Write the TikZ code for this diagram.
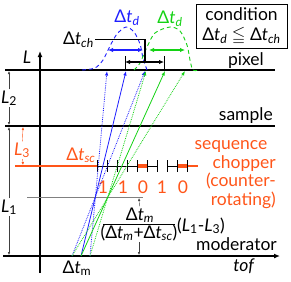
\documentclass[tikz,border=0pt]{standalone}
\usepackage{amsmath,amssymb}
\usepackage{fontspec}
\setmainfont{Lato}
\usetikzlibrary{arrows.meta}
\definecolor{chopred}{RGB}{255,85,25}
\definecolor{nblue}{RGB}{30,30,255}
\definecolor{ngreen}{RGB}{20,210,20}
\newcommand{\dtof}[1]{Δ\textit{t}\textsubscript{\textit{#1}}}
\tikzset{
  level/.style={line width=1.2pt},
  dimarrow/.style={black!75, line width=0.4pt, -{Latex[length=3pt,width=2.4pt]}},
  flight/.style={line width=0.8pt, -{Latex[length=4.5pt,width=3.4pt]}},
  spread/.style={line width=1.1pt, {Latex[length=5pt,width=4.5pt]}-{Latex[length=5pt,width=4.5pt]}},
  tag/.style={inner sep=0pt},
}

\begin{document}
\begin{tikzpicture}[x=1pt,y=-1pt,font=\fontsize{17.5}{20}\selectfont]
  \useasboundingbox (0,0) rectangle (291,281);
  \coordinate (pixW) at (5,70);   \coordinate (pixE) at (275,70);
  \coordinate (smpW) at (5,126);  \coordinate (smpE) at (275,126);
  \coordinate (modW) at (3,256);  \coordinate (modE) at (280,256);
  \coordinate (axB) at (40,273);  \coordinate (axT) at (40,51);
  \draw[level] (pixW) -- (pixE);
  \draw[level] (smpW) -- (smpE);
  \draw[line width=1.8pt, -{Latex[length=6pt,width=5pt]}] (modW) -- (modE);
  \draw[level, -{Latex[length=6pt,width=5pt]}] (axB) -- (axT);
  \coordinate (midW) at (27,197); \coordinate (midE) at (143,197);
  \draw[gray, line width=0.6pt] (midW) -- (midE);

  \coordinate (chW) at (15,166); \coordinate (chE) at (198,166);
  \draw[chopred, line width=1.6pt] (chW) -- (97,166);
  \draw[chopred, line width=1.6pt] (187,166) -- (chE);
  \draw[line width=0.9pt] (97,166) -- (137,166) (147,166) -- (157,166) (167,166) -- (177,166);
  \draw[chopred, line width=3.5pt] (137,166) -- (147,166) (177,166) -- (187,166);
  \foreach \x in {97,107,...,187}
    \draw[line width=0.9pt] (\x,160) -- (\x,172);
  \foreach \x/\d in {103/1,123/1,143/0,162/1,183/0}
    \node[tag, anchor=base, text=chopred] (bit\x) at (\x,193) {\d};

  \coordinate (mA) at (72,256); \coordinate (mB) at (81,256); \coordinate (mC) at (90,256);
  \foreach \x in {107,126,145,146,165,185}
    \coordinate (hit\x) at (\x,71);
  \foreach \s/\t/\c/\st in {mC/107/nblue/densely dotted, mB/126/nblue/solid,
                            mA/145/nblue/densely dotted, mC/146/ngreen/densely dotted,
                            mB/165/ngreen/solid, mA/185/ngreen/densely dotted}
    \draw[flight, \c, \st] (\s) -- (hit\t);

  \draw[nblue, line width=0.9pt, dash pattern=on 4pt off 3pt] plot[smooth] coordinates {
    (82,70) (95,68) (103,60) (110,46) (117,34) (126,27) (134,32) (140,44) (143,58) (147,70)
  };
  \draw[ngreen, line width=0.9pt, dash pattern=on 4pt off 3pt] plot[smooth] coordinates {
    (134,70) (140,63) (147,47) (155,33) (170,27) (180,31) (187,45) (190,60) (193,70) (200,70)
  };
  \coordinate (bdL) at (108,50); \coordinate (bdR) at (143,50);
  \coordinate (gdL) at (149,50); \coordinate (gdR) at (185,50);
  \draw[spread, nblue] (bdL) -- (bdR);
  \draw[spread, ngreen] (gdL) -- (gdR);
  \node[tag, anchor=base, text=nblue] (bdlab) at (127,22) {\dtof{d}};
  \node[tag, anchor=base, text=ngreen] (gdlab) at (170,23) {\dtof{d}};

  \node[inner sep=1pt, anchor=base east] (dtch) at (95,44) {\dtof{ch}};
  \coordinate (chD) at (145,62);
  \coordinate (chL) at (125,62); \coordinate (chR) at (164,62);
  \draw[line width=1.2pt] (dtch) -| (chD);
  \draw[spread] (chL) -- (chR);
  \draw[line width=1pt] ([yshift=6pt]chL) -- ([yshift=-8pt]chL);
  \draw[line width=1pt] ([yshift=6pt]chR) -- ([yshift=-8pt]chR);

  \node[draw, line width=1pt, minimum width=91pt, minimum height=44pt, inner sep=0pt,
        align=center] (cond) at (241.5,26) {condition\\\dtof{d} $\leqq$ \dtof{ch}};

  \node[anchor=base] (Llab) at (27,63) {\textit{L}};
  \node[tag, anchor=base east] (pixlab) at (264,65) {pixel};
  \node[tag, anchor=base east] (smplab) at (273,120) {sample};
  \node[tag, anchor=base east] (modlab) at (277,250) {moderator};
  \node[tag, anchor=base] (toflab) at (244,271) {\textit{tof}};
  \node[tag, anchor=base] (dtm) at (77,273) {Δ\textit{t}\textsubscript{m}};

  \node[inner sep=1pt, anchor=base] (Ltwo) at (9,103) {\textit{L}\textsubscript{2}};
  \coordinate (ltwoT) at (9,71); \coordinate (ltwoB) at (9,125);
  \draw[dimarrow] (Ltwo) -- (ltwoT);
  \draw[dimarrow] (Ltwo) -- (ltwoB);
  \node[inner sep=1pt, anchor=base] (Lone) at (9,212) {\textit{L}\textsubscript{1}};
  \coordinate (loneT) at (9,127); \coordinate (loneB) at (9,255);
  \draw[dimarrow] (Lone) -- (loneT);
  \draw[dimarrow] (Lone) -- (loneB);
  \node[inner sep=1pt, anchor=base, text=chopred] (Lthree) at (22,155) {\textit{L}\textsubscript{3}};
  \coordinate (lthrT) at (23,127); \coordinate (lthrB) at (23,165);
  \draw[dimarrow, chopred] (Lthree) -- (lthrT);
  \draw[dimarrow, chopred] (Lthree) -- (lthrB);
  \node[tag, anchor=base, text=chopred] (dtsc) at (81,160) {\dtof{sc}};

  \node[tag, anchor=base, text=chopred] (seqlab) at (231,149) {sequence};
  \node[tag, anchor=north east, text=chopred, align=right, font=\fontsize{17.5}{18.5}\selectfont]
    (choplab) at (276,155) {chopper\\(counter-\\rotating)};

  \node[inner sep=1pt, anchor=base] (num) at (140,220) {\dtof{m}};
  \node[inner sep=1pt, anchor=base] (den) at (139,238) {(\dtof{m}+\dtof{sc})};
  \coordinate (barW) at (103,224); \coordinate (barE) at (175,224);
  \draw[line width=0.6pt] (barW) -- (barE);
  \coordinate (fup) at (139,198); \coordinate (fdn) at (139,255);
  \draw[dimarrow] (num) -- (fup);
  \draw[dimarrow] (den) -- (fdn);
  \node[tag, anchor=base] (lfac) at (201,231) {(\textit{L}\textsubscript{1}-\textit{L}\textsubscript{3})};
\end{tikzpicture}
\end{document}
